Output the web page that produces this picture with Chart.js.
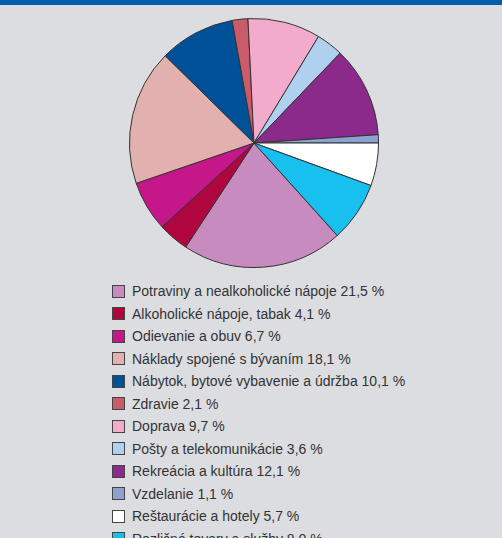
<!DOCTYPE html>
<html>
<head>
<meta charset="utf-8">
<script src="https://cdn.jsdelivr.net/npm/chart.js@4"></script>
<style>
  body { margin: 0; background: #dcdde0; width: 502px; height: 538px; overflow: hidden; position: relative; font-family: "Liberation Sans", Arial, sans-serif; }
  #pruh { position: absolute; left: 0; top: 0; width: 502px; height: 5px; background: #0060aa; }
  #obal { position: absolute; left: 129px; top: 18px; width: 250px; height: 250px; }
  #legenda { position: absolute; left: 112px; top: 280px; }
  .polozka { height: 22.5px; display: flex; align-items: center; font-size: 14px; color: #333; }
  .stvorec { width: 11px; height: 11px; border: 1px solid #444; margin-right: 7px; box-sizing: content-box; }
</style>
</head>
<body>
<div id="pruh"></div>
<div id="obal"><canvas id="graf"></canvas></div>
<div id="legenda"></div>
<script>
const kategorie = [
    "Potraviny a nealkoholické nápoje",
    "Alkoholické nápoje, tabak",
    "Odievanie a obuv",
    "Náklady spojené s bývaním",
    "Nábytok, bytové vybavenie a údržba",
    "Zdravie",
    "Doprava",
    "Pošty a telekomunikácie",
    "Rekreácia a kultúra",
    "Vzdelanie",
    "Reštaurácie a hotely",
    "Rozličné tovary a služby"
];
const podiely = [21.5, 4.1, 6.7, 18.1, 10.1, 2.1, 9.7, 3.6, 12.1, 1.1, 5.7, 8.0];
const farby = ["#c88bbf", "#b0063f", "#c5168a", "#e2b0ae", "#005198", "#c95b6a",
               "#f3abcb", "#afd0ee", "#8c2a8c", "#8ea2d2", "#ffffff", "#17c0ef"];

const ctx = document.getElementById("graf").getContext("2d");
new Chart(ctx, {
    type: 'pie',
    data: {
        labels: kategorie,
        datasets: [{
            data: podiely,
            backgroundColor: farby,
            borderColor: '#333',
            borderWidth: 1
        }]
    },
    options: {
        responsive: true,
        maintainAspectRatio: false,
        animation: false,
        rotation: 138,
        plugins: {
            legend: { display: false },
            tooltip: { enabled: false }
        }
    }
});

// legenda pod grafom
const div = document.getElementById("legenda");
kategorie.forEach((k, i) => {
    const p = document.createElement("div");
    p.className = "polozka";
    const s = document.createElement("span");
    s.className = "stvorec";
    s.style.background = farby[i];
    p.appendChild(s);
    const t = document.createElement("span");
    t.textContent = `${k} ${podiely[i].toFixed(1).replace(".", ",")} %`;
    p.appendChild(t);
    div.appendChild(p);
});
</script>
</body>
</html>
